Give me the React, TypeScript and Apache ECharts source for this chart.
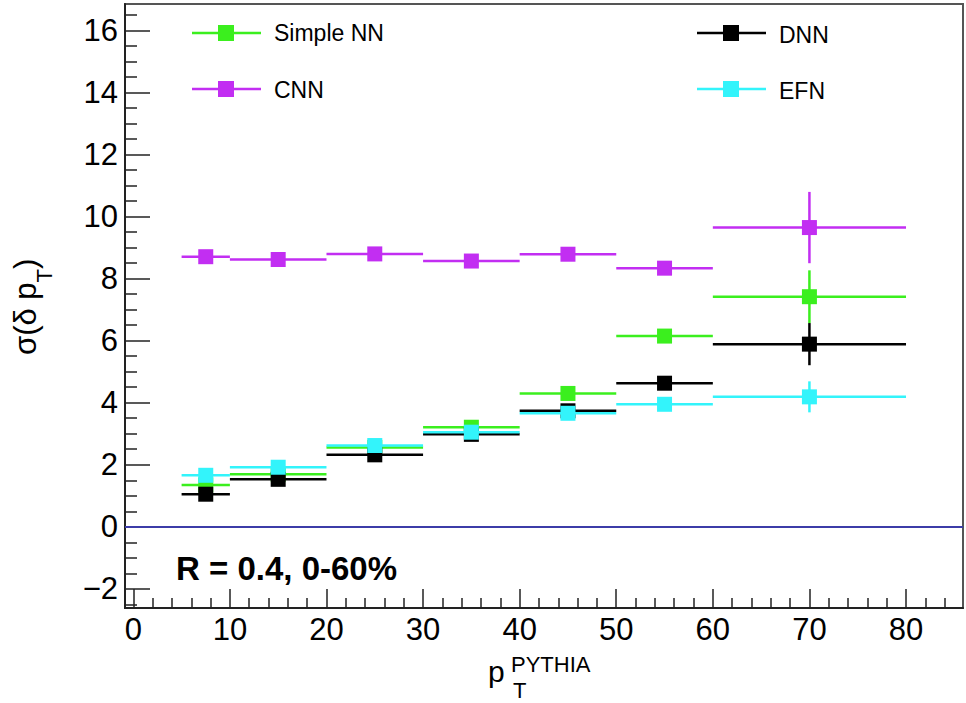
import React, { useEffect, useRef } from "react";
import * as echarts from "echarts";

// ---- data ----
const binLow = [5, 10, 20, 30, 40, 50, 60];
const binHigh = [10, 20, 30, 40, 50, 60, 80];
const binCenter = [7.5, 15, 25, 35, 45, 55, 70];

const simpleNN = [1.35, 1.69, 2.56, 3.21, 4.3, 6.15, 7.42];
const simpleNNErr = [0.08, 0.08, 0.08, 0.1, 0.12, 0.2, 0.85];
const cnn = [8.71, 8.62, 8.8, 8.57, 8.79, 8.34, 9.65];
const cnnErr = [0.1, 0.1, 0.12, 0.12, 0.15, 0.2, 1.15];
const dnn = [1.05, 1.53, 2.32, 2.98, 3.74, 4.63, 5.89];
const dnnErr = [0.08, 0.08, 0.08, 0.1, 0.12, 0.18, 0.68];
const efn = [1.66, 1.92, 2.62, 3.05, 3.66, 3.95, 4.19];
const efnErr = [0.08, 0.08, 0.08, 0.1, 0.12, 0.15, 0.5];

const seriesNames = ["Simple NN", "CNN", "DNN", "EFN"];
const seriesColors = ["#3bef1e", "#c22ef2", "#000000", "#33f4fb"];

const xMajorTicks = [0, 10, 20, 30, 40, 50, 60, 70, 80];
const xMinorTicks = [2, 4, 6, 8, 12, 14, 16, 18, 22, 24, 26, 28, 32, 34, 36, 38, 42, 44, 46, 48, 52, 54, 56, 58, 62, 64, 66, 68, 72, 74, 76, 78, 82, 84];
const yMajorTicks = [-2, 0, 2, 4, 6, 8, 10, 12, 14, 16];
const yMinorTicks = [-2.5, -1.5, -1, -0.5, 0.5, 1, 1.5, 2.5, 3, 3.5, 4.5, 5, 5.5, 6.5, 7, 7.5, 8.5, 9, 9.5, 10.5, 11, 11.5, 12.5, 13, 13.5, 14.5, 15, 15.5, 16.5];

const X_MIN = -0.86;
const X_MAX = 85.9;
const Y_MIN = -2.62;
const Y_MAX = 16.86;

const FONT = "'Liberation Sans', Arial, Helvetica, sans-serif";
const MARKER = 15;

function buildData(vals: number[], errs: number[]) {
  return vals.map((v, i) => [binCenter[i], v, binLow[i], binHigh[i], errs[i]]);
}

function makeRenderItem(color: string) {
  return (params: any, api: any) => {
    const x = api.value(0);
    const y = api.value(1);
    const lo = api.value(2);
    const hi = api.value(3);
    const e = api.value(4);
    const pL = api.coord([lo, y]);
    const pR = api.coord([hi, y]);
    const pT = api.coord([x, y + e]);
    const pB = api.coord([x, y - e]);
    const pC = api.coord([x, y]);
    return {
      type: "group",
      children: [
        { type: "line", shape: { x1: pL[0], y1: pL[1], x2: pR[0], y2: pR[1] }, style: { stroke: color, lineWidth: 2.5 } },
        { type: "line", shape: { x1: pT[0], y1: pT[1], x2: pB[0], y2: pB[1] }, style: { stroke: color, lineWidth: 2.5 } },
        { type: "rect", shape: { x: pC[0] - MARKER / 2, y: pC[1] - MARKER / 2, width: MARKER, height: MARKER }, style: { fill: color } },
      ],
    };
  };
}

function legendItem(name: string, color: string, x0: number, y: number, textY: number) {
  return [
    { type: "line", shape: { x1: x0, y1: y, x2: x0 + 69, y2: y }, style: { stroke: color, lineWidth: 2.5 } },
    { type: "rect", shape: { x: x0 + 26, y: y - 8, width: 16, height: 16 }, style: { fill: color } },
    { type: "text", x: x0 + 82, y: textY, style: { text: name, font: `23px ${FONT}`, fill: "#000", align: "left", verticalAlign: "middle" } },
  ];
}

export default function App() {
  const ref = useRef<HTMLDivElement>(null);
  useEffect(() => {
    if (!ref.current) return;
    const chart = echarts.init(ref.current, undefined, { renderer: "svg" });
    const allVals = [simpleNN, cnn, dnn, efn];
    const allErrs = [simpleNNErr, cnnErr, dnnErr, efnErr];
    const series: any[] = seriesNames.map((name, k) => ({
      name,
      type: "custom",
      xAxisIndex: 0,
      yAxisIndex: 0,
      renderItem: makeRenderItem(seriesColors[k]),
      data: buildData(allVals[k], allErrs[k]),
      itemStyle: { color: seriesColors[k] },
      encode: { x: [0, 2, 3], y: [1] },
      z: 3 + k,
      clip: true,
    }));
    series[0].markLine = {
      silent: true,
      symbol: "none",
      z: 1,
      label: { show: false },
      lineStyle: { color: "#3c3ca8", width: 2, type: "solid" },
      data: [{ yAxis: 0 }],
    };

    const axisLineStyle = { color: "#222", width: 2 };
    const option: any = {
      animation: false,
      backgroundColor: "#fff",
      grid: { left: 125, right: 3, top: 4, bottom: 95, show: true, borderColor: "#555", borderWidth: 2, backgroundColor: "transparent" },
      xAxis: [
        {
          type: "value", min: X_MIN, max: X_MAX, position: "bottom",
          axisLine: { show: true, onZero: false, lineStyle: axisLineStyle },
          axisTick: { show: true, inside: true, length: 19, customValues: xMajorTicks, lineStyle: { color: "#222", width: 1.5 } },
          axisLabel: { show: true, customValues: xMajorTicks, fontSize: 31, fontFamily: FONT, color: "#000", margin: 6 },
          splitLine: { show: false },
        },
        {
          type: "value", min: X_MIN, max: X_MAX, position: "bottom",
          axisLine: { show: false, onZero: false },
          axisTick: { show: true, inside: true, length: 10, customValues: xMinorTicks, lineStyle: { color: "#222", width: 1.5 } },
          axisLabel: { show: false },
          splitLine: { show: false },
        },
      ],
      yAxis: [
        {
          type: "value", min: Y_MIN, max: Y_MAX, position: "left",
          axisLine: { show: true, onZero: false, lineStyle: axisLineStyle },
          axisTick: { show: true, inside: true, length: 25, customValues: yMajorTicks, lineStyle: { color: "#222", width: 1.5 } },
          axisLabel: {
            show: true, customValues: yMajorTicks, fontSize: 31, fontFamily: FONT, color: "#000", margin: 7,
            formatter: (v: number) => String(v).replace("-", "\u2212"),
          },
          splitLine: { show: false },
        },
        {
          type: "value", min: Y_MIN, max: Y_MAX, position: "left",
          axisLine: { show: false, onZero: false },
          axisTick: { show: true, inside: true, length: 12, customValues: yMinorTicks, lineStyle: { color: "#222", width: 1.5 } },
          axisLabel: { show: false },
          splitLine: { show: false },
        },
      ],
      series,
      graphic: [
        ...legendItem(seriesNames[0], seriesColors[0], 192, 33, 33),
        ...legendItem(seriesNames[1], seriesColors[1], 192, 89, 90),
        ...legendItem(seriesNames[2], seriesColors[2], 697, 33, 35),
        ...legendItem(seriesNames[3], seriesColors[3], 697, 89, 91),
        {
          type: "text", x: 176, y: 568.5,
          style: { text: "R = 0.4, 0-60%", font: `bold 33px ${FONT}`, fill: "#000", align: "left", verticalAlign: "middle" },
        },
        // x axis title p_T^PYTHIA
        { type: "text", x: 488, y: 671.5, style: { text: "p", font: `30px ${FONT}`, fill: "#000", align: "left", verticalAlign: "middle" } },
        { type: "text", x: 511, y: 664, style: { text: "PYTHIA", font: `22px ${FONT}`, fill: "#000", align: "left", verticalAlign: "middle" } },
        { type: "text", x: 513, y: 690, style: { text: "T", font: `22px ${FONT}`, fill: "#000", align: "left", verticalAlign: "middle" } },
        // y axis title
        {
          type: "text", x: 25, y: 355, rotation: Math.PI / 2,
          style: {
            text: "{a|σ(δ p}{b|T}{a|)}",
            align: "left", verticalAlign: "middle",
            rich: {
              a: { fontSize: 31, fontFamily: FONT, color: "#000", lineHeight: 60 },
              b: { fontSize: 22, fontFamily: FONT, color: "#000", lineHeight: 22, verticalAlign: "bottom" },
            },
          },
        },
      ],
    };
    chart.setOption(option);
    return () => chart.dispose();
  }, []);
  return <div ref={ref} style={{ position: "fixed", left: 0, top: 0, width: 966, height: 703 }} />;
}
